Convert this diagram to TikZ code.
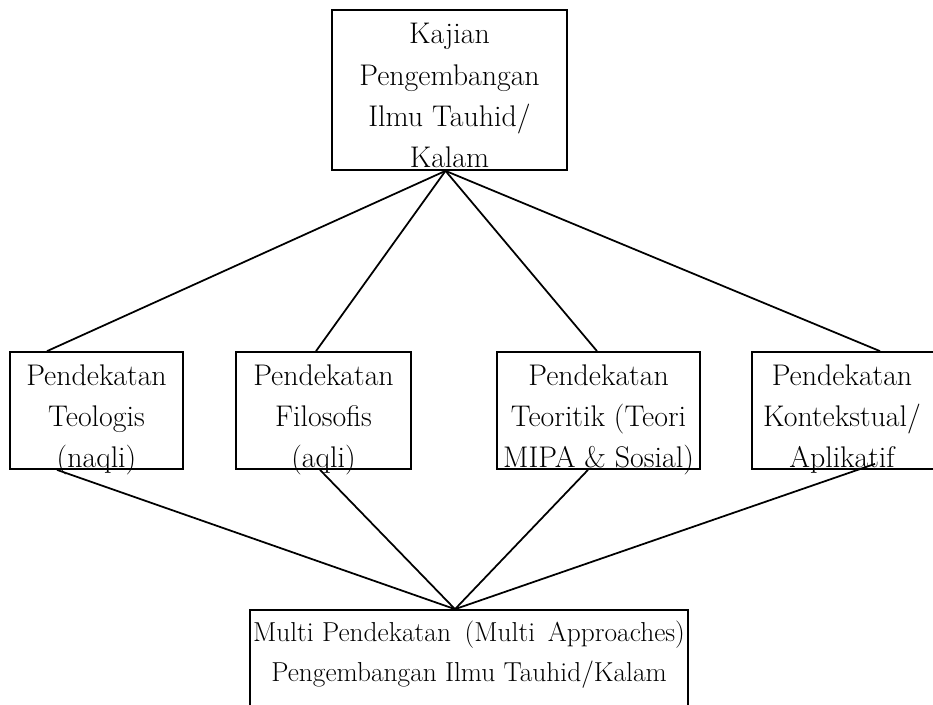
\documentclass[tikz,border=0pt]{standalone}
\usetikzlibrary{calc}
\begin{document}
\begin{tikzpicture}[x=0.02cm, y=-0.02cm, line width=1pt,
  box/.style={draw, inner sep=0pt},
  txt/.style={font=\fontsize{17}{23.6}\selectfont, align=center, inner sep=0pt, anchor=south, text depth=0pt}]
\useasboundingbox (0,0) rectangle (933,704);
\clip (0,0) rectangle (933,704);

% Kajian (top)
\node[box, minimum width=4.7cm, minimum height=3.2cm] (kajian) at (449.5,90) {};
\node[txt] (kajiantxt) at ($(kajian.south)+(0,-2)$) {Kajian\\Pengembangan\\Ilmu Tauhid/\\Kalam};

% Pendekatan (middle row)
\node[box, minimum width=3.46cm, minimum height=2.34cm] (teologis) at (96.5,410.5) {};
\node[txt] (teologistxt) at ($(teologis.south)+(0,-1)$) {Pendekatan\\Teologis\\(naqli)};

\node[box, minimum width=3.5cm, minimum height=2.34cm] (filosofis) at (323.5,410.5) {};
\node[txt] (filosofistxt) at ($(filosofis.south)+(0,-1)$) {Pendekatan\\Filosofis\\(aqli)};

\node[box, minimum width=4.06cm, minimum height=2.34cm] (teoritik) at (598.5,410.5) {};
\node[txt] (teoritiktxt) at ($(teoritik.south)+(0,-1)$) {Pendekatan\\Teoritik (Teori\\MIPA \& Sosial)};

\node[box, minimum width=3.8cm, minimum height=2.34cm] (kontekstual) at (847,410.5) {};
\node[txt] (kontekstualtxt) at ($(kontekstual.south)+(-5,-1)$) {Pendekatan\\Kontekstual/\\Aplikatif};

% Multi Pendekatan (bottom)
\node[box, minimum width=8.76cm, minimum height=3cm] (multi) at (469,685) {};
\node[txt, anchor=north, font=\fontsize{15.6}{22.6}\selectfont] (multitxt) at ($(multi.north)+(0,11)$) {Multi Pendekatan\enspace(Multi\, Approaches)\\Pengembangan Ilmu Tauhid/Kalam};

% connectors
\coordinate (up) at ($(kajian.south)+(-4,0)$);
\coordinate (down) at ($(multi.north)+(-14,0)$);
\draw (up) -- ($(teologis.north)+(-49.5,0)$);
\draw (up) -- ($(filosofis.north)+(-7.5,0)$);
\draw (up) -- ($(teoritik.north)+(-1.5,0)$);
\draw (up) -- ($(kontekstual.north)+(33,0)$);
\draw ($(teologis.south)+(-39.5,0)$) -- (down);
\draw ($(filosofis.south)+(-3.5,0)$) -- (down);
\draw ($(teoritik.south)+(-10.5,0)$) -- (down);
\draw ($(kontekstual.south)+(28,-6)$) -- (down);
\end{tikzpicture}
\end{document}
